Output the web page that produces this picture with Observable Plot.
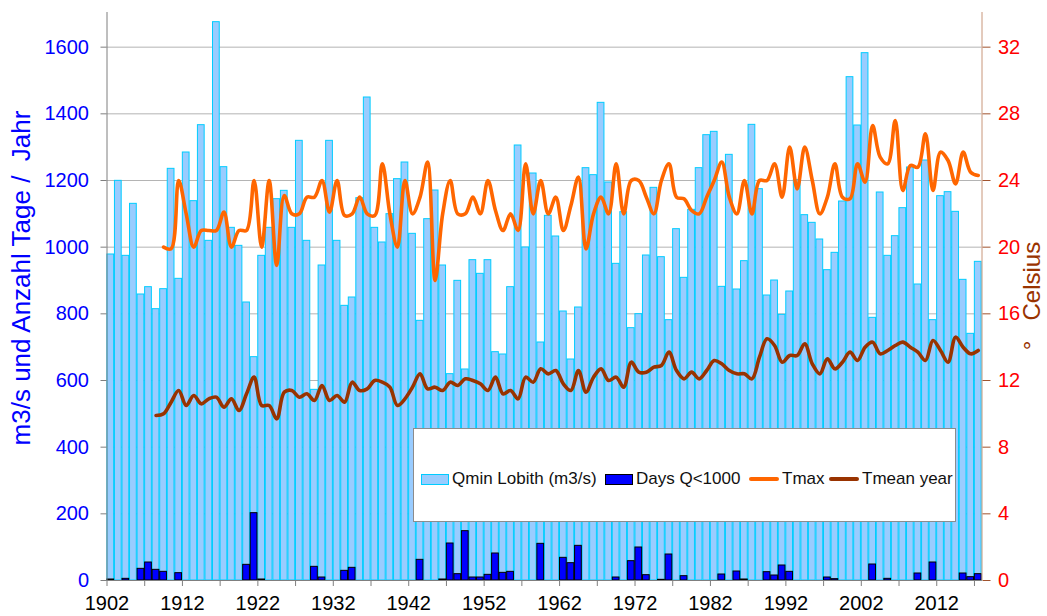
<!DOCTYPE html>
<html>
<head>
<meta charset="utf-8">
<script src="https://cdn.jsdelivr.net/npm/d3@7"></script>
<script src="https://cdn.jsdelivr.net/npm/@observablehq/plot@0.6"></script>
<style>
  body { margin: 0; background: #fff; font-family: "Liberation Sans", Arial, sans-serif; }
  #wrap { position: relative; width: 1047px; height: 616px; overflow: hidden; }
  .ttl { position: absolute; white-space: pre; transform: translate(-50%, -50%) rotate(-90deg); line-height: 1; }
  #legend { position: absolute; left: 413px; top: 428px; width: 541px; height: 92px; border: 1px solid #8c8c8c; background: #fff; }
  .item { position: absolute; top: 40px; height: 20px; display: flex; align-items: center; font-size: 17px; color: #111; white-space: pre; }
  .sw { width: 26px; height: 9px; margin-right: 3px; }
  .ln { width: 30px; height: 4px; border-radius: 2px; margin-right: 3px; }
</style>
</head>
<body>
<div id="wrap">
  <div id="chart"></div>
  <div class="ttl" style="left:21px; top:278px; font-size:26px; color:#0000ff;">m3/s und Anzahl Tage /  Jahr</div>
  <div class="ttl" style="left:1032px; top:296px; font-size:24px; color:#993300;">°   Celsius</div>
  <div id="legend"></div>
</div>
<script>
// ---- data ----
const firstYear = 1902;
const qminLobith = [
  978, 1199, 974, 1130, 858, 880, 814, 874, 1235, 905,
  1284, 1138, 1366, 1019, 1675, 1240, 1058, 1004, 834, 670,
  974, 1058, 1144, 1169, 1058, 1319, 1019, 572, 945, 1319,
  1019, 824, 849, 1147, 1449, 1058, 1014, 1099, 1204, 1254,
  1040, 779, 1084, 1170, 945, 619, 899, 633, 961, 920,
  961, 685, 678, 880, 1305, 999, 1221, 714, 1094, 1032,
  807, 663, 819, 1237, 1216, 1433, 1194, 950, 1105, 757,
  799, 975, 1178, 970, 781, 1054, 908, 1112, 1237, 1336,
  1346, 881, 1277, 873, 958, 1367, 1174, 855, 900, 797,
  867, 1201, 1096, 1073, 1023, 931, 983, 1137, 1510, 1365,
  1582, 788, 1164, 974, 1033, 1117, 1239, 888, 1260, 781,
  1153, 1165, 1106, 902, 740, 956
];
const daysBelow1000 = [
  3, 0, 5, 0, 35, 54, 32, 26, 0, 22,
  0, 0, 0, 0, 0, 0, 0, 0, 47, 202,
  3, 0, 0, 0, 0, 0, 0, 41, 9, 0,
  0, 29, 38, 0, 0, 0, 0, 0, 0, 0,
  0, 62, 0, 0, 3, 111, 19, 148, 9, 9,
  17, 81, 23, 26, 0, 0, 0, 110, 0, 0,
  68, 52, 104, 0, 0, 0, 0, 9, 0, 58,
  99, 16, 0, 2, 78, 0, 13, 0, 0, 0,
  0, 18, 0, 27, 3, 0, 0, 25, 15, 45,
  26, 0, 0, 0, 0, 9, 4, 0, 0, 0,
  0, 48, 0, 5, 0, 0, 0, 21, 0, 54,
  0, 0, 0, 21, 10, 19
];
const tmaxFirstYear = 1909;
const tmax = [
  20.0, 19.9, 24.0, 22.0, 20.0, 21.0, 21.0, 21.0, 22.1, 20.0,
  21.0, 21.0, 24.0, 20.0, 24.0, 18.9, 23.1, 22.0, 22.0, 23.0,
  23.0, 24.0, 22.1, 24.0, 21.9, 22.0, 23.0, 22.0, 21.9, 25.0,
  22.0, 20.0, 24.0, 22.0, 23.0, 25.1, 18.0, 22.0, 24.0, 22.0,
  22.0, 23.0, 22.0, 24.0, 22.2, 21.0, 22.0, 21.0, 25.0, 22.0,
  24.0, 22.0, 23.0, 21.0, 22.5, 24.2, 19.9, 22.0, 23.0, 22.0,
  25.0, 22.0, 24.0, 24.0, 23.0, 22.0, 24.0, 25.0, 23.0, 22.9,
  22.2, 22.0, 23.0, 24.0, 25.1, 23.0, 22.0, 24.0, 22.0, 24.0,
  24.0, 25.0, 23.0, 26.0, 23.5, 26.0, 24.0, 22.0, 23.0, 25.0,
  23.0, 22.9, 25.0, 23.9, 27.3, 25.4, 25.0, 27.6, 23.4, 24.9,
  24.8, 26.8, 23.4, 25.7, 25.2, 23.8, 25.7, 24.5, 24.3
];
const tmeanFirstYear = 1908;
const tmeanYear = [
  9.9, 10.0, 10.7, 11.4, 10.5, 11.1, 10.6, 10.9, 11.0, 10.4,
  10.9, 10.2, 11.2, 12.2, 10.5, 10.5, 9.7, 11.3, 11.4, 11.0,
  11.2, 10.8, 11.7, 10.8, 11.1, 10.7, 11.9, 11.4, 11.5, 12.0,
  11.9, 11.6, 10.5, 10.9, 11.6, 12.4, 11.5, 11.6, 11.4, 11.9,
  11.7, 12.1, 12.0, 11.8, 11.4, 12.2, 11.2, 11.4, 10.9, 12.2,
  11.9, 12.7, 12.4, 12.6, 11.8, 11.4, 12.6, 11.3, 12.2, 12.7,
  12.0, 12.2, 11.6, 13.1, 12.5, 12.5, 12.8, 12.9, 13.7, 12.6,
  12.1, 12.5, 12.1, 12.6, 13.2, 13.0, 12.6, 12.4, 12.4, 12.1,
  13.4, 14.5, 14.1, 13.1, 13.5, 13.5, 14.2, 13.0, 12.4, 13.3,
  12.7, 13.1, 13.7, 13.2, 14.0, 14.3, 13.6, 13.8, 14.1, 14.3,
  14.0, 13.7, 13.2, 14.4, 13.8, 13.1, 14.6, 14.0, 13.6, 13.8
];
const leftTicks = [0, 200, 400, 600, 800, 1000, 1200, 1400, 1600];
const celsiusTicks = [0, 4, 8, 12, 16, 20, 24, 28, 32];
const yearTicks = d3.range(1902, 2018, 5);
const labelEvery = 10;
const legendItems = [
  {label: "Qmin Lobith (m3/s)", kind: "bar", fill: "#99ccff", stroke: "#00ccff", left: 7},
  {label: "Days Q<1000", kind: "bar", fill: "#0000ff", stroke: "#000000", left: 191},
  {label: "Tmax", kind: "line", stroke: "#ff6600", left: 335},
  {label: "Tmean year", kind: "line", stroke: "#993300", left: 415}
];

// ---- tables ----
const celsiusToLeft = 1600 / 32; // right axis shares gridlines with left axis
const qTable = qminLobith.map((q, i) => ({year: firstYear + i, year2: firstYear + i + 1, q}));
const dTable = daysBelow1000.map((d, i) => ({year: firstYear + i, year2: firstYear + i + 1, d})).filter(r => r.d > 0);
const tmaxTable = tmax.map((t, i) => ({xc: tmaxFirstYear + i + 0.5, v: t * celsiusToLeft}));
const tmeanTable = tmeanYear.map((t, i) => ({xc: tmeanFirstYear + i + 0.5, v: t * celsiusToLeft}));
const lastYear = firstYear + qminLobith.length;

const font = '"Liberation Sans", Arial, sans-serif';
const chart = Plot.plot({
  width: 1047,
  height: 616,
  marginLeft: 106.5,
  marginRight: 65.5,
  marginTop: 12,
  marginBottom: 36,
  x: {type: "linear", domain: [firstYear, lastYear], label: null},
  y: {domain: [0, 1704], label: null},
  style: {fontFamily: font, fontSize: "20px", background: "transparent"},
  marks: [
    Plot.ruleY(leftTicks.filter(d => d > 0), {stroke: "#b4b4b4", strokeWidth: 1}),
    Plot.rect(qTable, {x1: "year", x2: "year2", y1: 0, y2: "q", fill: "#99ccff", stroke: "#00ccff", strokeWidth: 1, insetLeft: 0.4, insetRight: 0.4}),
    Plot.rect(dTable, {x1: "year", x2: "year2", y1: 0, y2: "d", fill: "#0000ff", stroke: "#000000", strokeWidth: 1, insetLeft: 0.4, insetRight: 0.4}),
    Plot.line(tmeanTable, {x: "xc", y: "v", stroke: "#993300", strokeWidth: 3.6, curve: "catmull-rom"}),
    Plot.line(tmaxTable, {x: "xc", y: "v", stroke: "#ff6600", strokeWidth: 3.6, curve: "catmull-rom"}),
    Plot.ruleX([firstYear], {stroke: "#7f7f7f"}),
    Plot.ruleX([lastYear], {stroke: "#c8967a"}),
    Plot.ruleY([0], {stroke: "#7f7f7f"}),
    Plot.axisY(leftTicks, {anchor: "left", tickSize: 6, tickPadding: 12, stroke: "#7f7f7f", fill: "#0000ff", fontSize: 20, label: null, tickFormat: d => String(d)}),
    Plot.axisY(celsiusTicks.map(c => c * celsiusToLeft), {anchor: "right", tickSize: 8, tickPadding: 8, stroke: "#a0522d", fill: "#ff0000", fontSize: 20, label: null, tickFormat: d => String(d / celsiusToLeft)}),
    Plot.axisX(yearTicks, {anchor: "bottom", tickSize: 6, tickPadding: 9, stroke: "#7f7f7f", fill: "#000000", fontSize: 20, label: null,
      tickFormat: d => ((d - firstYear) % labelEvery === 0 ? String(d) : "")})
  ]
});
document.getElementById("chart").appendChild(chart);

// ---- legend (HTML overlay inside the plot area, like the original) ----
const legend = document.getElementById("legend");
for (const it of legendItems) {
  const div = document.createElement("div");
  div.className = "item";
  div.style.left = it.left + "px";
  const sw = document.createElement("span");
  if (it.kind === "bar") {
    sw.className = "sw";
    sw.style.background = it.fill;
    sw.style.border = "1.5px solid " + it.stroke;
  } else {
    sw.className = "ln";
    sw.style.background = it.stroke;
  }
  const tx = document.createElement("span");
  tx.textContent = it.label;
  div.appendChild(sw);
  div.appendChild(tx);
  legend.appendChild(div);
}
</script>
</body>
</html>
